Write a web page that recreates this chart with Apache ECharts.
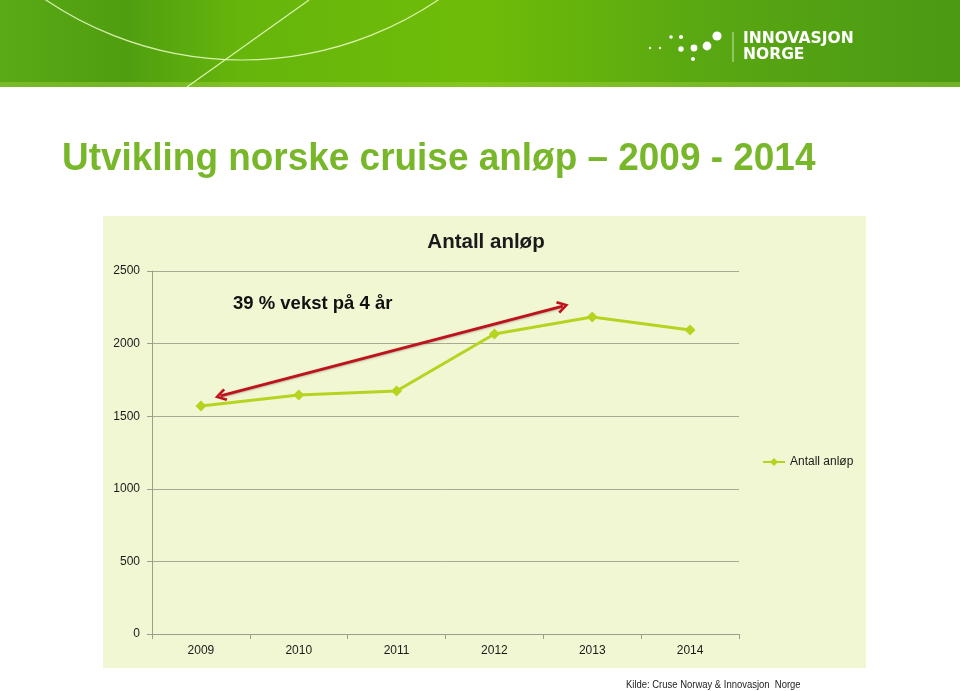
<!DOCTYPE html>
<html><head><meta charset="utf-8">
<script src="https://cdn.jsdelivr.net/npm/echarts@6/dist/echarts.min.js"></script>
<style>html,body{margin:0;padding:0;background:#fff}#c{width:960px;height:691px}</style>
</head><body><div id="c"></div><script>
const categories = ['2009', '2010', '2011', '2012', '2013', '2014'];
const seriesName = 'Antall anløp';
const values = [1570, 1646, 1674, 2066, 2183, 2094];
const yTicks = [0, 500, 1000, 1500, 2000, 2500];
const mainTitle = 'Utvikling norske cruise anløp – 2009 - 2014';
const growthNote = '39 % vekst på 4 år';
const sourceNote = 'Kilde: Cruse Norway & Innovasjon  Norge';
const arrowFrom = [0.2, 1640];
const arrowTo = [3.7, 2258];

const FONT = "'Liberation Sans', 'Noto Sans', sans-serif";
const chevron = 'path://M5,0 L10,8 L8.3,9.2 L5,3.6 L1.7,9.2 L0,8 Z';

const chart = echarts.init(document.getElementById('c'), null, {renderer: 'canvas'});

const logoDots = [
  [650, 48, 1.2], [660, 48, 1.2], [671, 37, 1.8], [681, 37, 2.1], [717, 36, 4.6],
  [681, 49, 2.7], [694, 48, 3.4], [707, 46, 4.4], [693, 59, 2.0]
];

const graphics = [
  {type: 'rect', z: -10, silent: true, shape: {x: 0, y: 0, width: 960, height: 87},
    style: {fill: new echarts.graphic.LinearGradient(0, 0, 1, 0, [
      {offset: 0, color: '#5aa916'}, {offset: 0.13, color: '#4f9e10'},
      {offset: 0.25, color: '#66b50c'}, {offset: 0.5, color: '#6fbc08'},
      {offset: 0.72, color: '#5aa812'}, {offset: 1, color: '#4b9914'}])}},
  {type: 'rect', z: -9, silent: true, shape: {x: 0, y: 82, width: 960, height: 5},
    style: {fill: 'rgba(160,210,60,0.45)'}},
  {type: 'circle', z: -8, silent: true, shape: {cx: 242, cy: -290, r: 350},
    style: {fill: 'none', stroke: 'rgba(240,255,200,0.85)', lineWidth: 1.2}},
  {type: 'line', z: -8, silent: true, shape: {x1: 187, y1: 87, x2: 309, y2: 0},
    style: {stroke: 'rgba(240,255,200,0.85)', lineWidth: 1.2}},
  {type: 'line', z: -8, silent: true, shape: {x1: 733, y1: 32, x2: 733, y2: 62},
    style: {stroke: 'rgba(255,255,255,0.7)', lineWidth: 1}},
  {type: 'text', silent: true, x: 743, y: 39, scaleX: 0.97, style: {text: 'INNOVASJON', fill: '#fff',
    font: "bold 16px 'DejaVu Sans', sans-serif", verticalAlign: 'middle'}},
  {type: 'text', silent: true, x: 743, y: 55, scaleX: 0.97, style: {text: 'NORGE', fill: '#fff',
    font: "bold 16px 'DejaVu Sans', sans-serif", verticalAlign: 'middle'}},
  {type: 'rect', z: -10, silent: true, shape: {x: 103, y: 216, width: 763, height: 452},
    style: {fill: '#f2f7d3'}},
  {type: 'text', silent: true, x: 62, y: 160, scaleX: 0.972, style: {text: mainTitle, fill: '#78b72a',
    font: "bold 38px " + FONT, verticalAlign: 'middle'}},
  {type: 'text', silent: true, x: 486, y: 242, style: {text: seriesName, fill: '#1a1a1a',
    font: "bold 20.5px " + FONT, align: 'center', verticalAlign: 'middle'}},
  {type: 'text', silent: true, x: 233, y: 304, style: {text: growthNote, fill: '#111',
    font: "bold 18.5px " + FONT, verticalAlign: 'middle'}},
  {type: 'text', silent: true, x: 626, y: 685, scaleX: 0.86, style: {text: sourceNote, fill: '#222',
    font: "11px " + FONT, verticalAlign: 'middle'}}
];
logoDots.forEach(d => graphics.push({type: 'circle', silent: true,
  shape: {cx: d[0], cy: d[1], r: d[2]}, style: {fill: '#fff'}}));

const option = {
  animation: false,
  backgroundColor: '#ffffff',
  grid: {left: 152, right: 221, top: 271, bottom: 57, containLabel: false},
  legend: {
    data: [seriesName], left: 762, top: 456, padding: 0, itemWidth: 22, itemHeight: 10, itemGap: 5,
    textStyle: {fontFamily: FONT, fontSize: 12, color: '#1a1a1a'}
  },
  xAxis: [{
    type: 'category', data: categories, boundaryGap: true,
    axisLine: {lineStyle: {color: '#9e9e8a', width: 1}},
    axisTick: {show: true, length: 5, lineStyle: {color: '#9e9e8a'}},
    axisLabel: {fontFamily: FONT, fontSize: 12, color: '#1a1a1a', margin: 11},
    splitLine: {show: false}
  }, {
    type: 'value', min: -0.5, max: 5.5, show: false,
    axisLine: {show: false}, splitLine: {show: false}
  }],
  yAxis: {
    type: 'value', min: yTicks[0], max: yTicks[yTicks.length - 1], interval: 500,
    axisLine: {show: true, onZero: false, lineStyle: {color: '#9e9e8a', width: 1}},
    axisTick: {show: true, length: 5, lineStyle: {color: '#9e9e8a'}},
    axisLabel: {fontFamily: FONT, fontSize: 12, color: '#1a1a1a', margin: 12,
      formatter: v => String(v)},
    splitLine: {show: true, lineStyle: {color: '#a8a893', width: 1}}
  },
  series: [{
    name: seriesName, type: 'line', data: values,
    symbol: 'diamond', symbolSize: 11,
    lineStyle: {color: '#b5d420', width: 3},
    itemStyle: {color: '#b5d420'}
  }, {
    name: 'arrow', type: 'line', xAxisIndex: 1, data: [arrowFrom, arrowTo],
    symbol: 'none', lineStyle: {width: 0, opacity: 0}, silent: true,
    markLine: {
      silent: true, symbol: [chevron, chevron], symbolSize: [13, 12],
      label: {show: false},
      lineStyle: {color: '#c0121c', width: 3, type: 'solid',
        shadowColor: 'rgba(0,0,0,0.25)', shadowBlur: 2, shadowOffsetY: 1},
      data: [[{coord: arrowFrom}, {coord: arrowTo}]]
    }
  }],
  graphic: graphics
};
chart.setOption(option);
</script></body></html>
